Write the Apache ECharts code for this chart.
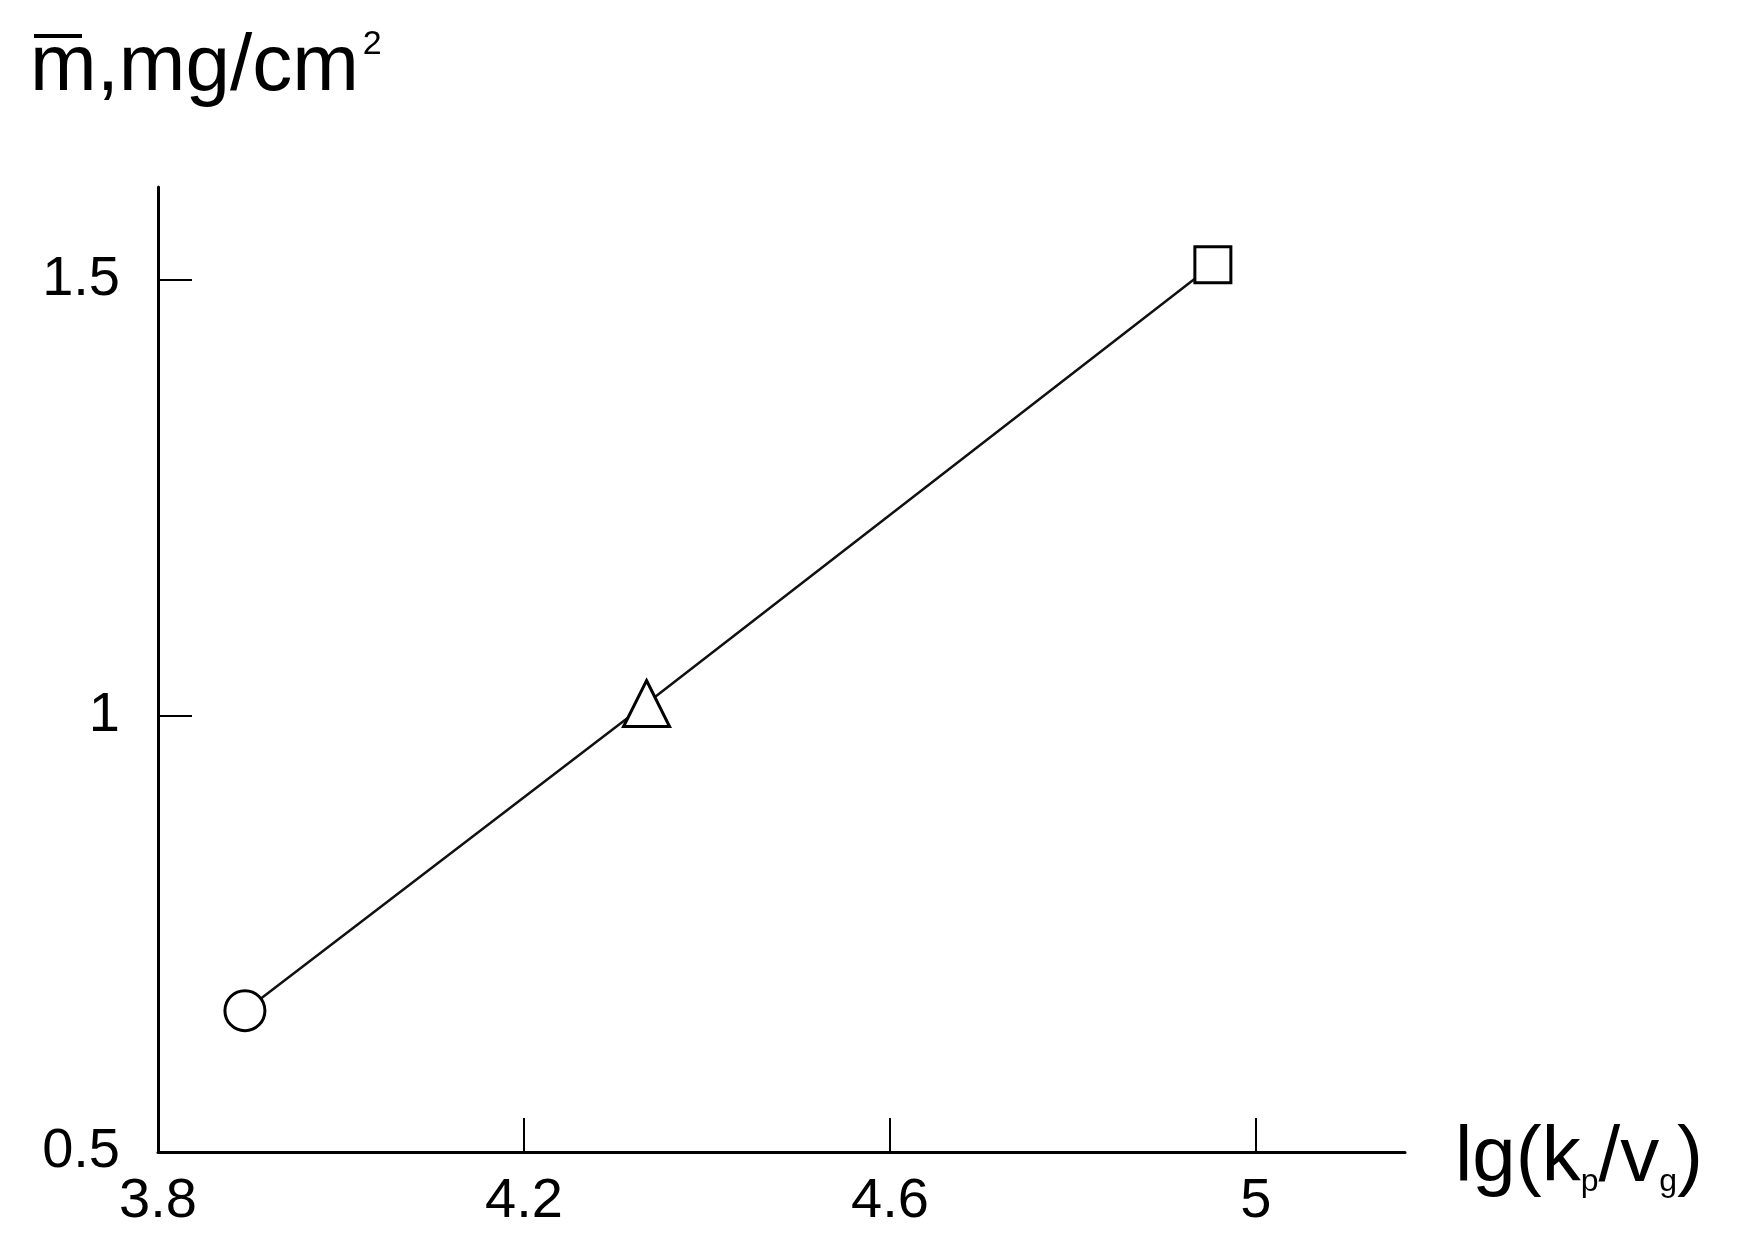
<!DOCTYPE html>
<html>
<head>
<meta charset="utf-8">
<script src="https://cdn.jsdelivr.net/npm/echarts@6/dist/echarts.min.js"></script>
<style>html,body{margin:0;padding:0;background:#fff}#chart{width:1737px;height:1246px}</style>
</head>
<body>
<div id="chart"></div>
<script>
// values
const xValues = [3.895, 4.334, 4.953]
const yValues = [0.662, 1.014, 1.517]
const symbols = ['circle', 'triangle', 'rect']
const symbolSizes = [40, 46, 36]

const chart = echarts.init(document.getElementById('chart'))
const font = 'Liberation Sans, Arial, sans-serif'

chart.setOption({
  animation: false,
  grid: { left: 158, right: 332, top: 187, bottom: 94 },
  xAxis: {
    type: 'value', min: 3.8, max: 5.163, interval: 0.4,
    axisLine: { lineStyle: { color: '#000', width: 3 } },
    axisTick: { inside: true, length: 34, lineStyle: { color: '#000', width: 2 } },
    axisLabel: { color: '#000', fontSize: 56, fontFamily: font, margin: 22,
      showMaxLabel: false },
    splitLine: { show: false }
  },
  yAxis: {
    type: 'value', min: 0.5, max: 1.606, interval: 0.5,
    axisLine: { show: true, lineStyle: { color: '#000', width: 3 } },
    axisTick: { inside: true, length: 34, lineStyle: { color: '#000', width: 2 } },
    axisLabel: { color: '#000', fontSize: 56, fontFamily: font, margin: 38,
      showMaxLabel: false },
    splitLine: { show: false }
  },
  graphic: [
    { type: 'line', shape: { x1: 34, y1: 36, x2: 82, y2: 36 }, style: { stroke: '#000', lineWidth: 4 } },
    {
      type: 'text', left: 30, top: 28,
      style: {
        text: '{m|m,mg/cm}{s|2}',
        rich: {
          m: { fontSize: 80, fontFamily: font, fill: '#000' },
          s: { fontSize: 34, fontFamily: font, fill: '#000', verticalAlign: 'top', padding: [0, 0, 46, 4] }
        }
      }
    },
    {
      type: 'text', left: 1455, top: 1120,
      style: {
        text: '{a|lg(k}{b|p}{a|/v}{b|g}{a|)}',
        rich: {
          a: { fontSize: 78, fontFamily: font, fill: '#000' },
          b: { fontSize: 32, fontFamily: font, fill: '#000', verticalAlign: 'bottom', padding: [34, 0, 0, 0] }
        }
      }
    }
  ],
  series: [{
    type: 'line',
    data: xValues.map((x, i) => ({
      value: [x, yValues[i]],
      symbol: symbols[i],
      symbolSize: symbolSizes[i]
    })),
    lineStyle: { color: '#111', width: 2.5 },
    itemStyle: { color: '#fff', borderColor: '#000', borderWidth: 3 },
    showAllSymbol: true,
    z: 3
  }]
})
</script>
</body>
</html>
